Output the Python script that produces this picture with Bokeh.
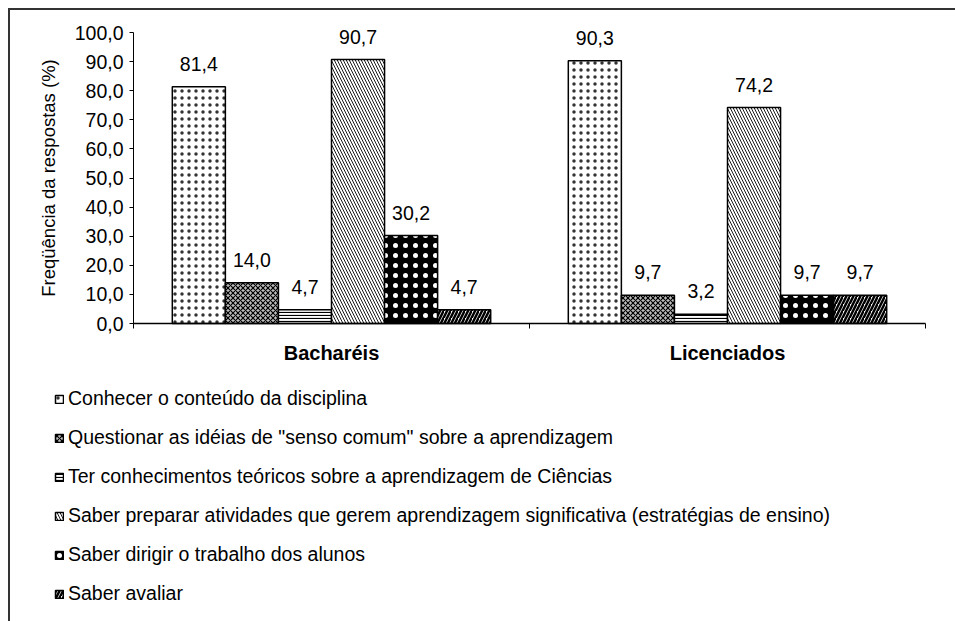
from bokeh.plotting import figure
from bokeh.layouts import column
from bokeh.models import (Range1d, FixedTicker, Legend, LegendItem, ColumnDataSource)
from bokeh.embed import file_html
from bokeh.resources import INLINE
from bokeh.core.properties import value

# ---- data ----
groups = ["Bacharéis", "Licenciados"]
series_names = [
    "Conhecer o conteúdo da disciplina",
    'Questionar as idéias de "senso comum" sobre a aprendizagem',
    "Ter conhecimentos teóricos sobre a aprendizagem de Ciências",
    "Saber preparar atividades que gerem aprendizagem significativa (estratégias de ensino)",
    "Saber dirigir o trabalho dos alunos",
    "Saber avaliar",
]
conhecer = [81.4, 90.3]
questionar = [14.0, 9.7]
teoricos = [4.7, 3.2]
preparar = [90.7, 74.2]
dirigir = [30.2, 9.7]
avaliar = [4.7, 9.7]
all_values = [conhecer, questionar, teoricos, preparar, dirigir, avaliar]
y_ticks = [0, 10, 20, 30, 40, 50, 60, 70, 80, 90, 100]
y_tick_labels = ["0,0", "10,0", "20,0", "30,0", "40,0", "50,0", "60,0", "70,0", "80,0", "90,0", "100,0"]

# styles: fill, hatch pattern, hatch colour, scale, weight
styles = [
    ("white", "dot", "#333333", 7, 1.0),
    ("#bdbdbd", "diagonal_cross", "black", 5, 1.2),
    ("white", "horizontal_line", "black", 3, 1.2),
    ("white", "left_diagonal_line", "black", 6, 0.9),
    ("black", "dot", "white", 10, 1.0),
    ("white", "right_diagonal_line", "black", 7, 2.5),
]

FONT = "Liberation Sans"
BAR_W = 0.134

# canvas 945 x 611; frame covers the whole canvas, axes are fixed at x=0 / y=0
W, H = 945, 611
AX_LEFT, AX_RIGHT = 123, 915     # canvas px of x=0 and x=2
AX_TOP, AX_BOTTOM = 22, 313      # canvas px of y=100 and y=0
xs_per = (AX_RIGHT - AX_LEFT) / 2.0
ys_per = (AX_BOTTOM - AX_TOP) / 100.0
x_rng = Range1d(-AX_LEFT / xs_per, 2 + (W - AX_RIGHT) / xs_per)
y_rng = Range1d(-(H - AX_BOTTOM) / ys_per, 100 + AX_TOP / ys_per)

p = figure(width=W, height=H, x_range=x_rng, y_range=y_rng,
           output_backend="svg", toolbar_location=None,
           min_border_left=0, min_border_right=0, min_border_top=0, min_border_bottom=0)
p.outline_line_color = None
p.xgrid.grid_line_color = None
p.ygrid.grid_line_color = None

items = []
for k, (name, vals) in enumerate(zip(series_names, all_values)):
    fill, hp, hc, hs, hw = styles[k]
    xs = [i + 0.5 + (k - 2.5) * BAR_W for i in range(len(groups))]
    labels = [f"{v:.1f}".replace(".", ",") for v in vals]
    src = ColumnDataSource(dict(x=xs, top=vals, lab=labels))
    r = p.vbar(x="x", top="top", bottom=0, width=BAR_W, source=src,
               fill_color=fill, hatch_pattern=hp, hatch_color=hc, hatch_scale=hs,
               hatch_weight=hw, line_color="black", line_width=1.5)
    p.text(x="x", y="top", text="lab", source=src, text_align="center",
           text_baseline="alphabetic", y_offset=-23, text_font=value(FONT),
           text_font_size="19.5px", text_color="black")
    items.append(LegendItem(label=name, renderers=[r]))

# x axis
xa = p.xaxis[0]
xa.fixed_location = 0
xa.bounds = (0, 2)
xa.ticker = FixedTicker(ticks=[0.5, 1.5], minor_ticks=[0, 1, 2])
xa.major_label_overrides = {0.5: groups[0], 1.5: groups[1]}
xa.major_tick_line_color = None
xa.major_tick_out = 0
xa.major_tick_in = 0
xa.minor_tick_out = 5
xa.minor_tick_in = 0
xa.minor_tick_line_color = "black"
xa.axis_line_color = "black"
xa.axis_line_width = 1.5
xa.major_label_text_font = FONT
xa.major_label_text_font_size = "20px"
xa.major_label_text_font_style = "bold"
xa.major_label_text_color = "black"
xa.major_label_standoff = 13

# y axis
ya = p.yaxis[0]
ya.fixed_location = 0
ya.bounds = (0, 100)
ya.ticker = FixedTicker(ticks=y_ticks)
ya.major_label_overrides = {t: l for t, l in zip(y_ticks, y_tick_labels)}
ya.major_tick_out = 4
ya.major_tick_in = 0
ya.minor_tick_line_color = None
ya.axis_line_color = "black"
ya.major_tick_line_color = "black"
ya.major_label_text_font = FONT
ya.major_label_text_font_size = "19.5px"
ya.major_label_text_color = "black"
ya.major_label_standoff = 6
ya.axis_label = "Freqüência da respostas (%)"
ya.axis_label_text_font = FONT
ya.axis_label_text_font_size = "18.5px"
ya.axis_label_text_font_style = "normal"
ya.axis_label_text_color = "black"
ya.axis_label_standoff = 13

legend = Legend(items=items, location=(44, 16), orientation="vertical",
                glyph_width=10, glyph_height=10, label_standoff=4, spacing=16,
                label_height=22, padding=0, margin=0,
                border_line_color=None, background_fill_alpha=0,
                label_text_font=FONT, label_text_font_size="19.5px",
                label_text_color="black")
p.add_layout(legend, "center")

layout = column(p, spacing=0,
                styles={"border-top": "2px solid #333333", "border-left": "2px solid #333333",
                        "margin-left": "8px", "margin-top": "8px"})

open("out.html", "w").write(file_html(layout, INLINE))
